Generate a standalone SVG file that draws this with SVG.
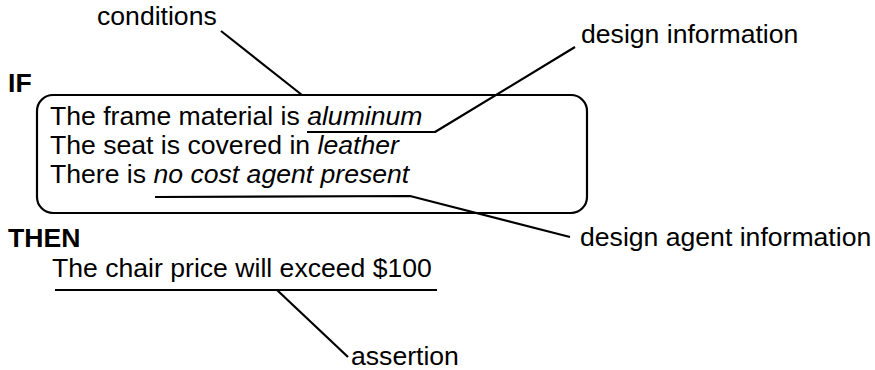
<svg xmlns="http://www.w3.org/2000/svg" width="875" height="370" viewBox="0 0 875 370">
<style>
text{font-family:"Liberation Sans",Arial,sans-serif;font-size:26.6px;fill:#000}
.b{font-weight:bold}
.i{font-style:italic}
.ln{fill:none;stroke:#000;stroke-width:2.2;stroke-linejoin:round}
</style>
<rect width="875" height="370" fill="#fff"/>
<g id="conditions"><text x="97" y="25">conditions</text></g>
<g id="if"><text class="b" x="8" y="92">IF</text></g>
<g id="condition-box">
<rect x="37" y="95" width="550" height="118" rx="16" ry="16" class="ln"/>
<text x="50" y="125">The frame material is <tspan class="i">aluminum</tspan></text>
<text x="50" y="154">The seat is covered in <tspan class="i">leather</tspan></text>
<text x="50" y="183">There is <tspan class="i">no cost agent present</tspan></text>
</g>
<g id="design-information"><text x="581" y="43">design information</text></g>
<g id="design-agent-information"><text x="580" y="246">design agent information</text></g>
<g id="then"><text class="b" x="8" y="247">THEN</text></g>
<g id="assertion-text"><text x="52" y="277">The chair price will exceed $100</text></g>
<g id="assertion"><text x="351" y="365">assertion</text></g>
<g id="connectors">
<polyline class="ln" points="221,31 302,95"/>
<polyline class="ln" points="307,132 435,132 575,47"/>
<polyline class="ln" points="155,197 410,196 570,237"/>
<polyline class="ln" points="55,290 437,290"/>
<polyline class="ln" points="277,290 348,357"/>
</g>
</svg>
